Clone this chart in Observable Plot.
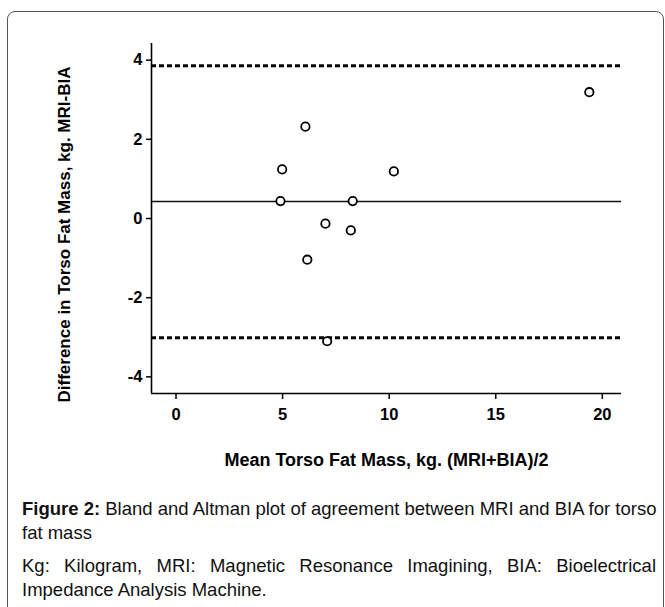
<!DOCTYPE html>
<html><head><meta charset="utf-8">
<script src="https://cdn.jsdelivr.net/npm/d3@7"></script>
<script src="https://cdn.jsdelivr.net/npm/@observablehq/plot@0.6"></script>
<style>
html,body{margin:0;padding:0;background:#fff;}
body{width:665px;height:607px;position:relative;overflow:hidden;font-family:"Liberation Sans",Arial,sans-serif;}
#frame{position:absolute;left:7px;top:11px;width:655px;height:640px;border:1px solid #555;border-radius:8px;}
#chart{position:absolute;left:0;top:0;}
#caption{position:absolute;left:22px;top:497px;width:634px;font-size:18.5px;line-height:24px;color:#111;}
#caption p{margin:0 0 9px 0;}
#caption p.n{white-space:nowrap;}
#caption p.j{text-align:justify;}
svg text{font-weight:bold;}
</style></head><body>
<div id="frame"></div>
<div id="chart"></div>
<div id="caption"><p class="n"><b>Figure 2:</b> Bland and Altman plot of agreement between MRI and BIA for torso<br>fat mass</p><p class="j">Kg: Kilogram, MRI: Magnetic Resonance Imagining, BIA: Bioelectrical Impedance Analysis Machine.</p></div>
<script>
const meanMass = [6.07, 4.98, 4.90, 8.29, 10.22, 7.01, 8.20, 6.16, 7.09, 19.39];
const difference = [2.32, 1.24, 0.44, 0.44, 1.19, -0.13, -0.30, -1.04, -3.10, 3.19];
const biasLine = [0.43];
const agreementLimits = [3.86, -3.01];
const xTicks = [0, 5, 10, 15, 20];
const yTicks = [-4, -2, 0, 2, 4];
const xDomain = [-1.15, 20.9];
const yDomain = [-4.42, 4.42];
const xLabel = "Mean Torso Fat Mass, kg. (MRI+BIA)/2";
const yLabel = "Difference in Torso Fat Mass, kg. MRI-BIA";

const points = meanMass.map((m, i) => ({mean: m, diff: difference[i]}));
const font = '"Liberation Sans", Arial, sans-serif';

const chart = Plot.plot({
  width: 665, height: 480,
  marginLeft: 151, marginTop: 43, marginRight: 44, marginBottom: 87,
  style: {fontFamily: font, fontWeight: "bold", fontSize: "16px", background: "transparent", color: "#000"},
  x: {domain: xDomain},
  y: {domain: yDomain},
  marks: [
    Plot.ruleY(agreementLimits, {stroke: "#000", strokeWidth: 3, strokeDasharray: "5,3"}),
    Plot.ruleY(biasLine, {stroke: "#111", strokeWidth: 1.5}),
    Plot.ruleX([xDomain[0]], {stroke: "#000", strokeWidth: 1.6}),
    Plot.ruleY([yDomain[0]], {stroke: "#000", strokeWidth: 1.6}),
    Plot.axisX({ticks: xTicks, tickFormat: d => String(d), tickSize: 6, tickPadding: 9, strokeWidth: 1.5, fontSize: 16, fontWeight: "bold",
      label: xLabel, labelAnchor: "center", labelOffset: 72, labelArrow: "none"}),
    Plot.axisY({ticks: yTicks, tickFormat: d => String(d), tickSize: 5, tickPadding: 4, strokeWidth: 1.5, fontSize: 16, fontWeight: "bold",
      label: yLabel, labelAnchor: "center", labelOffset: 94, labelArrow: "none"}),
    Plot.dot(points, {x: "mean", y: "diff", r: 4.2, stroke: "#000", strokeWidth: 1.8, fill: "#fff"})
  ]
});
document.getElementById("chart").appendChild(chart);
const svg = d3.select(chart);
svg.selectAll("text").style("font-weight", "bold");
svg.selectAll('g[aria-label="x-axis tick label"] text, g[aria-label="y-axis tick label"] text').style("font-size", "16.5px");
const yl = svg.select('g[aria-label="y-axis label"]');
yl.selectAll("text").style("font-size", "17px");
yl.attr("transform", "translate(0,16) " + (yl.attr("transform") || ""));
svg.select('g[aria-label="x-axis label"]').selectAll("text").style("font-size", "18px");
</script>
</body></html>
